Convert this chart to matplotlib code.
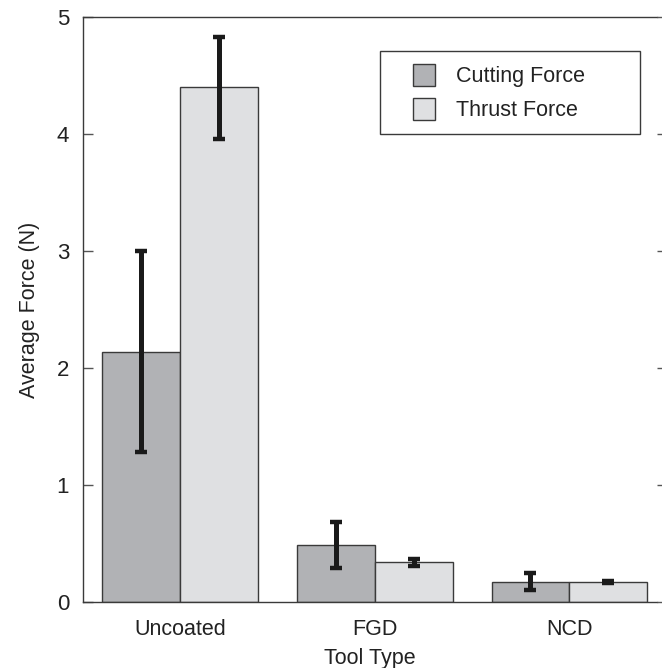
import numpy as np
import matplotlib.pyplot as plt
from matplotlib.patches import Rectangle
from matplotlib.container import BarContainer
from matplotlib.legend_handler import HandlerPatch, update_from_first_child

plt.rcParams['font.family'] = ['Liberation Sans', 'DejaVu Sans']

# Data
tools = ['Uncoated', 'FGD', 'NCD']
cutting = [2.14, 0.49, 0.17]
cutting_lo = [1.28, 0.29, 0.10]
cutting_hi = [3.00, 0.68, 0.25]
thrust = [4.40, 0.34, 0.17]
thrust_lo = [3.96, 0.31, 0.16]
thrust_hi = [4.83, 0.37, 0.18]

text_col = '#222222'
edge_col = '#3a3a3a'
fs = 15.5

fig = plt.figure(figsize=(6.62, 6.68), dpi=100)
ax = fig.add_axes([0.1254, 0.0988, 0.8670, 0.8758])

x = np.arange(len(tools))
w = 0.4
cutting = np.array(cutting)
thrust = np.array(thrust)
c_err = [cutting - np.array(cutting_lo), np.array(cutting_hi) - cutting]
t_err = [thrust - np.array(thrust_lo), np.array(thrust_hi) - thrust]

ekw = dict(ecolor='#1a1a1a', elinewidth=3.6, capsize=4.3, capthick=3.2)
ax.bar(x - w / 2, cutting, w, color='#b1b2b5', edgecolor=edge_col, linewidth=1.0,
       yerr=c_err, error_kw=ekw, label='Cutting Force', zorder=2)
ax.bar(x + w / 2, thrust, w, color='#dfe0e2', edgecolor=edge_col, linewidth=1.0,
       yerr=t_err, error_kw=ekw, label='Thrust Force', zorder=2)

ax.set_xlim(-0.499, 2.45)
ax.set_ylim(0, 5)
ax.set_xticks(x)
ax.set_xticklabels(tools)
ax.set_yticks([0, 1, 2, 3, 4, 5])

ax.spines['right'].set_visible(False)
for s in ['left', 'top', 'bottom']:
    ax.spines[s].set_color(edge_col)
    ax.spines[s].set_linewidth(1.0)

ax.tick_params(axis='x', length=0, labelsize=fs, labelcolor=text_col, pad=12)
ax.tick_params(axis='y', direction='in', length=7, width=1.0,
               color='#555555', labelsize=16, labelcolor=text_col, pad=10)

# right side: short outward ticks, no spine
ax2 = ax.twinx()
ax2.set_ylim(0, 5)
ax2.set_yticks([0, 1, 2, 3, 4, 5])
ax2.tick_params(axis='y', direction='out', length=4, width=1.0, color='#555555',
                labelright=False)
for s in ax2.spines.values():
    s.set_visible(False)


def square_handle(legend, orig_handle, xdescent, ydescent, width, height, fontsize):
    # square patch sitting on the right part of the handle box
    return Rectangle((width - height - xdescent, -ydescent), height, height)


ax.set_xlabel('Tool Type', fontsize=fs, color=text_col, labelpad=6)
ax.set_ylabel('Average Force (N)', fontsize=fs, color=text_col, labelpad=12)

handler = HandlerPatch(patch_func=square_handle, update_func=update_from_first_child)
leg = ax.legend(loc='upper right', bbox_to_anchor=(0.970, 0.942), fontsize=fs,
                fancybox=False, edgecolor=edge_col, framealpha=1,
                handlelength=1.95, handleheight=1.2, handletextpad=0.95,
                borderpad=0.6, borderaxespad=0, labelspacing=0.5,
                handler_map={BarContainer: handler})
leg.get_frame().set_linewidth(1.0)
for t in leg.get_texts():
    t.set_color(text_col)
    t.set_text(t.get_text() + '       ')

fig.savefig('out.png', dpi=100)
